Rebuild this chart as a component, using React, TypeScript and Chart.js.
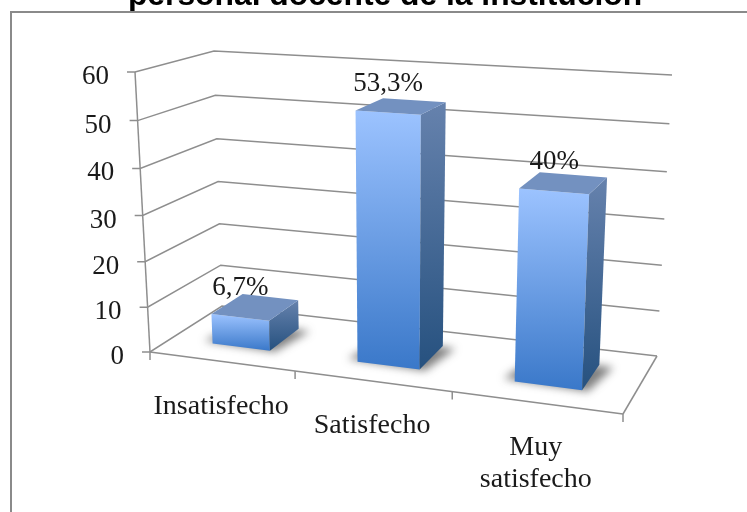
import React, { useEffect, useRef } from "react";
import { Chart, registerables } from "chart.js";

Chart.register(...registerables);

const titleText = "personal docente de la institución";
const categories: (string | string[])[] = ["Insatisfecho", "Satisfecho", ["Muy", "satisfecho"]];
const seriesValues = [6.7, 53.3, 40];
const dataLabels = ["6,7%", "53,3%", "40%"];
const yTickStep = 10;
const yMax = 60;

type P = [number, number];
const LABEL_FONT = '27px "Liberation Serif"';
const CATEGORY_FONT = '28px "Liberation Serif"';
const LINE = "#8e8e8e";

// Perspective box of the 3D plot: [front/back][left/right] at floor and ceiling level.
const floorFL: P = [150, 352], floorFR: P = [623, 414], floorBL: P = [222, 306], floorBR: P = [657, 356];
const topFL: P = [135, 72], topFR: P = [636, 103], topBL: P = [214, 51], topBR: P = [672, 75];
const mix = (a: P, b: P, k: number): P => [a[0] + (b[0] - a[0]) * k, a[1] + (b[1] - a[1]) * k];

function project(t: number, s: number, w: number): P {
  const u = t / (t + 1.13 * (1 - t));
  const h = s / (s + 1.05 * (1 - s));
  const floor = mix(mix(floorFL, floorFR, u), mix(floorBL, floorBR, u), w);
  const top = mix(mix(topFL, topFR, u), mix(topBL, topBR, u), w);
  return mix(floor, top, h);
}

function poly(ctx: CanvasRenderingContext2D, pts: P[]) {
  ctx.beginPath();
  pts.forEach((p, i) => (i ? ctx.lineTo(p[0], p[1]) : ctx.moveTo(p[0], p[1])));
  ctx.closePath();
}
function seg(ctx: CanvasRenderingContext2D, a: P, b: P) {
  ctx.beginPath();
  ctx.moveTo(a[0], a[1]);
  ctx.lineTo(b[0], b[1]);
  ctx.stroke();
}

const scene3d = {
  id: "scene3d",
  afterDatasetsDraw(chart: any) {
    const ctx: CanvasRenderingContext2D = chart.ctx;
    const { x, y } = chart.scales;
    const area = chart.chartArea;
    const tOf = (px: number) => (px - area.left) / (area.right - area.left);
    const sOf = (value: number) => (y.bottom - y.getPixelForValue(value)) / (y.bottom - y.top);
    ctx.save();

    // outer frame: an opaque panel that sits over the bottom of the title
    ctx.fillStyle = "#fff";
    ctx.fillRect(11, 12, 736, 500);
    ctx.strokeStyle = "#8a8a8a";
    ctx.lineWidth = 2;
    ctx.beginPath();
    ctx.moveTo(11, 512);
    ctx.lineTo(11, 12);
    ctx.lineTo(747, 12);
    ctx.stroke();

    // walls, gridlines and y axis ticks
    ctx.strokeStyle = LINE;
    ctx.lineWidth = 1.5;
    ctx.fillStyle = "#1a1a1a";
    ctx.font = LABEL_FONT;
    ctx.textBaseline = "middle";
    y.ticks.forEach((tk: any) => {
      const s = sOf(tk.value);
      const a = project(0, s, 0), b = project(0, s, 1), c = project(1, s, 1);
      ctx.beginPath();
      ctx.moveTo(a[0] - 8, a[1]);
      ctx.lineTo(a[0], a[1]);
      ctx.lineTo(b[0], b[1]);
      ctx.lineTo(c[0], c[1]);
      ctx.stroke();
      ctx.textAlign = "right";
      ctx.fillText(String(tk.value), a[0] - 26, a[1] + 5);
    });
    seg(ctx, project(0, 0, 0), project(0, 1, 0));
    seg(ctx, project(0, 0, 0), project(1, 0, 0));
    seg(ctx, project(1, 0, 0), project(1, 0, 1));

    // category ticks and labels
    const n = categories.length;
    for (let i = 0; i <= n; i++) {
      const p = project(i / n, 0, 0);
      seg(ctx, p, [p[0], p[1] + 8]);
    }
    ctx.textAlign = "center";
    ctx.font = CATEGORY_FONT;
    categories.forEach((cat, i) => {
      const p = project(tOf(x.getPixelForTick(i)), 0, 0);
      const lines = Array.isArray(cat) ? cat : [cat];
      lines.forEach((ln, k) => ctx.fillText(ln, p[0], p[1] + 45 + k * 32));
    });
    ctx.font = LABEL_FONT;

    // bars
    const wFront = 0.3, wBack = 0.75;
    const meta = chart.getDatasetMeta(0);
    meta.data.forEach((bar: any, i: number) => {
      const t0 = tOf(bar.x - bar.width / 2), t1 = tOf(bar.x + bar.width / 2);
      const s = sOf(seriesValues[i]);
      const bFL = project(t0, 0, wFront), bFR = project(t1, 0, wFront), bBR = project(t1, 0, wBack);
      const tFL = project(t0, s, wFront), tFR = project(t1, s, wFront), tBR = project(t1, s, wBack), tBL = project(t0, s, wBack);

      // soft contact shadow on the floor
      ctx.save();
      ctx.filter = "blur(4px)";
      ctx.fillStyle = "rgba(50,50,50,0.62)";
      poly(ctx, [project(t0 - 0.025, 0, wFront + 0.03), project(t1 + 0.012, 0, wFront - 0.01), project(t1 + 0.03, 0, wBack - 0.02), project(t0, 0, wBack)]);
      ctx.fill();
      ctx.restore();

      const front = ctx.createLinearGradient(0, tFL[1], 0, bFR[1]);
      front.addColorStop(0, "#9cc3ff");
      front.addColorStop(1, "#3a78c9");
      ctx.fillStyle = front;
      poly(ctx, [tFL, tFR, bFR, bFL]);
      ctx.fill();

      const side = ctx.createLinearGradient(0, tBR[1], 0, bFR[1]);
      side.addColorStop(0, "#6682ad");
      side.addColorStop(1, "#26517f");
      ctx.fillStyle = side;
      poly(ctx, [tFR, tBR, bBR, bFR]);
      ctx.fill();

      ctx.fillStyle = "#7391c0";
      poly(ctx, [tFL, tFR, tBR, tBL]);
      ctx.fill();

      ctx.fillStyle = "#1a1a1a";
      ctx.textAlign = "center";
      ctx.fillText(dataLabels[i], (tFL[0] + tFR[0]) / 2, (tFL[1] + tFR[1]) / 2 - 29);
    });
    ctx.restore();
  },
};

export default function App() {
  const ref = useRef<HTMLCanvasElement>(null);
  useEffect(() => {
    const chart = new Chart(ref.current!, {
      type: "bar",
      plugins: [scene3d],
      data: {
        labels: categories as any,
        datasets: [
          {
            data: seriesValues,
            backgroundColor: "transparent",
            borderWidth: 0,
            categoryPercentage: 1,
            barPercentage: 0.405,
          },
        ],
      },
      options: {
        responsive: false,
        animation: false,
        layout: { padding: { left: 23 } },
        plugins: {
          legend: { display: false },
          tooltip: { enabled: false },
          title: {
            display: true,
            text: titleText,
            color: "#000",
            font: { family: '"Liberation Sans"', size: 31.8, weight: "bold" },
            padding: { top: -23, bottom: 0 },
          },
        },
        scales: {
          x: { display: false, offset: true },
          y: { display: false, min: 0, max: yMax, ticks: { stepSize: yTickStep } },
        },
      },
    } as any);
    return () => chart.destroy();
  }, []);
  return (
    <canvas
      ref={ref}
      width={747}
      height={512}
      style={{ position: "fixed", left: 0, top: 0, display: "block", background: "#fff" }}
    />
  );
}
